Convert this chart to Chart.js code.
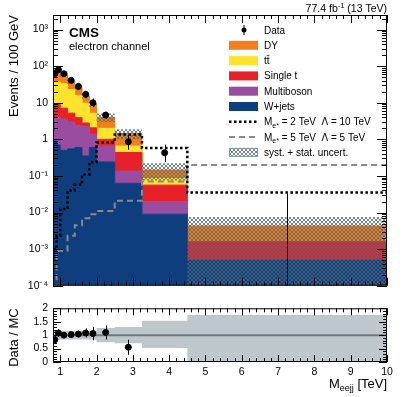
<!DOCTYPE html>
<html>
<head>
<meta charset="utf-8">
<script src="https://cdn.jsdelivr.net/npm/chart.js@4.4.1/dist/chart.umd.min.js"></script>
<style>
  html, body { margin: 0; padding: 0; background: #fff; }
  #wrap { position: relative; width: 407px; height: 397px; }
  canvas { position: absolute; left: 0; }
  #main { top: 0; }
  #ratio { top: 297px; }
</style>
</head>
<body>
<div id="wrap">
  <canvas id="main" width="407" height="297"></canvas>
  <canvas id="ratio" width="407" height="100"></canvas>
</div>
<script>
// bin edges of the M_eejj histogram, TeV
const binEdges = [0.8, 0.9, 1.0, 1.2, 1.4, 1.6, 1.8, 2.0, 2.5, 3.25, 4.5, 10];

// backgrounds, events / 100 GeV (stacked bottom to top)
const wjets      = [0.9, 0.7, 0.5, 0.55, 0.6, 0.35, 0.6, 0.24, 0.063, 0.009, 0.0005];
const multiboson = [3.1, 3.3, 3.1, 2.45, 1.8, 1.85, 0.8, 0.42, 0.073, 0.011, 0];
const singleTop  = [5.0, 5.0, 3.5, 2.2, 1.5, 0.6, 0.67, 0.34, 0.30, 0.036, 0.0011];
const ttbar      = [28, 28, 26, 17.8, 11.6, 6.9, 3.1, 1.0, 0.22, 0.029, 0];
const dy         = [39, 37, 29, 16, 10.5, 5.9, 4.0, 2.0, 0.79, 0.06, 0.0027];

// signal hypotheses
const sigM2L10 = [0.001, 0.0023, 0.0125, 0.04, 0.057, 0.11, 0.24, 0.82, 1.35, 0.58, 0.035];
const sigM5L5  = [0.00005, 0.0009, 0.0009, 0.0023, 0.0045, 0.007, 0.009, 0.011, 0.021, 0.07, 0.2];

// data
const dataVals  = [62, 80, 62, 41, 28, 17, 10, 4.6, 0.86, 0.43, 0];
const dataErrLo = [8, 9, 5.5, 4.5, 3.5, 2.9, 2.2, 1.0, 0.34, 0.19, 0];
const dataErrHi = [8, 9, 5.5, 4.5, 3.7, 3.4, 3.0, 1.1, 0.45, 0.29, 0.033];

// ratio panel
const ratioVals = [0.83, 1.08, 1.0, 1.02, 1.04, 1.08, 1.06, 1.10, 0.55, null, null];
const ratioErr  = [0.14, 0.14, 0.09, 0.10, 0.12, 0.17, 0.25, 0.26, 0.28, null, null];
const bandLo    = [0.82, 0.82, 0.84, 0.84, 0.84, 0.84, 0.83, 0.74, 0.70, 0.52, 0.0];
const bandHi    = [1.18, 1.18, 1.16, 1.16, 1.16, 1.16, 1.17, 1.27, 1.30, 1.54, 1.75];

// tick labels
const xMajorTicks = [1, 2, 3, 4, 5, 6, 7, 8, 9, 10];
const yTickValues = [1e-4, 1e-3, 1e-2, 1e-1, 1, 10, 100, 1000];
const yTickLabels = ['10\u207B\u2074', '10\u207B\u00B3', '10\u207B\u00B2', '10\u207B\u00B9', '1', '10', '10\u00B2', '10\u00B3'];
const ratioTickValues = [0, 0.5, 1, 1.5, 2];
const ratioTickLabels = ['0', '0.5', '1', '1.5', '2'];

const FONT = '"Liberation Sans", Arial, Helvetica, sans-serif';
Chart.defaults.font.family = FONT;
Chart.defaults.color = '#000';

const colors = {
  wjets: '#0f3e7e', multiboson: '#9a4ca1', singleTop: '#e6212a', ttbar: '#fde32b', dy: '#f27f1b',
  band: '#bec7cb', ratioLine: '#6f7a80'
};

// hatch pattern for the syst + stat band
function makeHatch(canvas) {
  const tile = document.createElement('canvas');
  tile.width = 4; tile.height = 4;
  const g = tile.getContext('2d');
  g.fillStyle = 'rgba(80,105,120,0.8)';
  for (let i = 0; i < 4; i++) {
    g.fillRect(i, i, 1, 1);
    g.fillRect(i, 3 - i, 1, 1);
  }
  return canvas.getContext('2d').createPattern(tile, 'repeat');
}

// step points: each bin value holds from its left edge to the next edge
function steps(vals) {
  const pts = vals.map((v, i) => ({x: binEdges[i], y: v}));
  pts.push({x: binEdges[binEdges.length - 1], y: vals[vals.length - 1]});
  return pts;
}

const nBins = binEdges.length - 1;
const binCenters = binEdges.slice(0, -1).map((e, i) => (e + binEdges[i + 1]) / 2);

// cumulative stack
const layers = [
  {label: 'W+jets', vals: wjets, color: colors.wjets},
  {label: 'Multiboson', vals: multiboson, color: colors.multiboson},
  {label: 'Single t', vals: singleTop, color: colors.singleTop},
  {label: 't\u0074\u0304', vals: ttbar, color: colors.ttbar},
  {label: 'DY', vals: dy, color: colors.dy}
];
let running = new Array(nBins).fill(0);
const cumulative = layers.map(l => {
  running = running.map((r, i) => r + l.vals[i]);
  return running.slice();
});
const total = cumulative[cumulative.length - 1];

const mainCanvas = document.getElementById('main');
const hatch = makeHatch(mainCanvas);

const mainSets = [];
layers.forEach((l, i) => {
  mainSets.push({
    label: l.label, data: steps(cumulative[i]), stepped: 'before',
    borderColor: l.color, borderWidth: 1, backgroundColor: l.color,
    fill: i === 0 ? 'start' : '-1', pointRadius: 0, order: 10
  });
});
mainSets.push({
  label: 'unc low', data: steps(total.map((t, i) => Math.max(t * bandLo[i], 1e-6))), stepped: 'before',
  borderColor: 'transparent', borderWidth: 1, fill: false, pointRadius: 0, order: 5
});
mainSets.push({
  label: 'unc high', data: steps(total.map((t, i) => t * bandHi[i])), stepped: 'before',
  borderColor: 'transparent', borderWidth: 1, backgroundColor: hatch, fill: '-1', pointRadius: 0, order: 5
});
mainSets.push({
  label: 'M2', data: steps(sigM2L10), stepped: 'before', borderColor: '#000', borderWidth: 2.5,
  borderDash: [2.5, 2.5], fill: false, pointRadius: 0, order: 2
});
mainSets.push({
  label: 'M5', data: steps(sigM5L5), stepped: 'before', borderColor: '#8a8a8a', borderWidth: 2,
  borderDash: [6, 4], fill: false, pointRadius: 0, order: 2
});
mainSets.push({
  label: 'Data', data: binCenters.map((c, i) => ({x: c, y: dataVals[i] > 0 ? dataVals[i] : null})),
  showLine: false, pointRadius: 3, pointBackgroundColor: '#000', pointBorderColor: '#000', order: 0
});

// text with sub/superscripts
function drawRich(ctx, parts, x, y, align) {
  let w = 0;
  parts.forEach(p => { ctx.font = (p.bold ? 'bold ' : '') + p.size + 'px ' + FONT; w += ctx.measureText(p.t).width; });
  let cx = align === 'right' ? x - w : x;
  parts.forEach(p => {
    ctx.font = (p.bold ? 'bold ' : '') + p.size + 'px ' + FONT;
    ctx.textAlign = 'left';
    ctx.fillText(p.t, cx, y + (p.dy || 0));
    cx += ctx.measureText(p.t).width;
  });
}

function frameAndTicks(chart, xTicks, yTicks) {
  const {ctx, chartArea: a} = chart;
  const xs = chart.scales.x, ys = chart.scales.y;
  ctx.save();
  ctx.strokeStyle = '#000';
  ctx.lineWidth = 1;
  ctx.beginPath();
  xTicks.forEach(t => {
    const px = Math.round(xs.getPixelForValue(t.v)) + 0.5;
    ctx.moveTo(px, a.bottom); ctx.lineTo(px, a.bottom - t.len);
    ctx.moveTo(px, a.top); ctx.lineTo(px, a.top + t.len);
  });
  yTicks.forEach(t => {
    const py = Math.round(ys.getPixelForValue(t.v)) + 0.5;
    ctx.moveTo(a.left, py); ctx.lineTo(a.left + t.len, py);
    ctx.moveTo(a.right, py); ctx.lineTo(a.right - t.len, py);
  });
  ctx.stroke();
  ctx.strokeRect(a.left + 0.5, a.top + 0.5, a.right - a.left - 1, a.bottom - a.top - 1);
  ctx.restore();
}

function xTickList(majorLen, minorLen) {
  const list = [];
  for (let k = 4; k <= 50; k++) list.push({v: k / 5, len: k % 5 === 0 ? majorLen : minorLen});
  return list;
}

const mainDecor = {
  id: 'mainDecor',
  afterDatasetsDraw(chart) {
    const {ctx, chartArea: a} = chart;
    const xs = chart.scales.x, ys = chart.scales.y;

    // data error bars
    ctx.save();
    ctx.strokeStyle = '#000';
    ctx.lineWidth = 1;
    ctx.beginPath();
    binCenters.forEach((c, i) => {
      const px = Math.round(xs.getPixelForValue(c)) + 0.5;
      const v = dataVals[i];
      const lo = v - dataErrLo[i];
      const yLo = lo > 0 ? ys.getPixelForValue(lo) : a.bottom;
      const yHi = ys.getPixelForValue(v + dataErrHi[i]);
      ctx.moveTo(px, yLo); ctx.lineTo(px, yHi);
    });
    ctx.stroke();
    ctx.restore();

    // frame and inward ticks
    const yTicks = [];
    for (let e = -4; e <= 3; e++) {
      for (let m = 1; m <= 9; m++) {
        const v = m * Math.pow(10, e);
        if (v <= ys.max) yTicks.push({v: v, len: m === 1 ? 10 : 5});
      }
    }
    frameAndTicks(chart, xTickList(8, 4), yTicks);

    // labels
    ctx.save();
    ctx.fillStyle = '#000';
    ctx.textBaseline = 'alphabetic';
    drawRich(ctx, [{t: 'CMS', size: 13.5, bold: true}], 69, 37);
    drawRich(ctx, [{t: 'electron channel', size: 11}], 69, 50);
    drawRich(ctx, [{t: '77.4 fb', size: 10.5}, {t: '-1', size: 7.5, dy: -4}, {t: ' (13 TeV)', size: 10.5}], 387, 12, 'right');

    // legend
    const lx = 229, lw = 29, tx = 264, top = 30, rowH = 15.3;
    const rows = [
      {kind: 'data', text: [{t: 'Data', size: 10}]},
      {kind: 'box', color: colors.dy, text: [{t: 'DY', size: 10}]},
      {kind: 'box', color: colors.ttbar, text: [{t: 't\u0074\u0304', size: 10}]},
      {kind: 'box', color: colors.singleTop, text: [{t: 'Single t', size: 10}]},
      {kind: 'box', color: colors.multiboson, text: [{t: 'Multiboson', size: 10}]},
      {kind: 'box', color: colors.wjets, text: [{t: 'W+jets', size: 10}]},
      {kind: 'line', color: '#000', width: 2.5, dash: [2.5, 2.5],
        text: [{t: 'M', size: 10}, {t: 'e*', size: 7, dy: 2.5}, {t: ' = 2 TeV  \u039B = 10 TeV', size: 10}]},
      {kind: 'line', color: '#8a8a8a', width: 2, dash: [6, 4],
        text: [{t: 'M', size: 10}, {t: 'e*', size: 7, dy: 2.5}, {t: ' = 5 TeV  \u039B = 5 TeV', size: 10}]},
      {kind: 'hatch', text: [{t: 'syst. + stat. uncert.', size: 10}]}
    ];
    rows.forEach((r, i) => {
      const cy = top + i * rowH;
      if (r.kind === 'data') {
        ctx.beginPath();
        ctx.moveTo(lx + lw / 2 + 0.5, cy - 5); ctx.lineTo(lx + lw / 2 + 0.5, cy + 5);
        ctx.strokeStyle = '#000'; ctx.lineWidth = 1; ctx.stroke();
        ctx.beginPath(); ctx.arc(lx + lw / 2 + 0.5, cy, 2.5, 0, Math.PI * 2); ctx.fill();
      } else if (r.kind === 'box') {
        ctx.fillStyle = r.color;
        ctx.fillRect(lx, cy - 4.5, lw, 9);
        ctx.fillStyle = '#000';
      } else if (r.kind === 'line') {
        ctx.save();
        ctx.strokeStyle = r.color; ctx.lineWidth = r.width; ctx.setLineDash(r.dash);
        ctx.beginPath(); ctx.moveTo(lx, cy); ctx.lineTo(lx + lw, cy); ctx.stroke();
        ctx.restore();
      } else {
        ctx.fillStyle = hatch;
        ctx.fillRect(lx, cy - 4.5, lw, 9);
        ctx.strokeStyle = '#8a9aa4'; ctx.lineWidth = 1;
        ctx.strokeRect(lx + 0.5, cy - 4, lw - 1, 8);
        ctx.fillStyle = '#000';
      }
      drawRich(ctx, r.text, tx, cy + 3.5);
    });
    ctx.restore();
  }
};

new Chart(mainCanvas, {
  type: 'line',
  data: {datasets: mainSets},
  options: {
    responsive: false,
    animation: false,
    devicePixelRatio: 1,
    layout: {padding: {top: 15, right: 20, bottom: 6, left: 0}},
    plugins: {legend: {display: false}, tooltip: {enabled: false}},
    scales: {
      x: {type: 'linear', min: binEdges[0], max: binEdges[binEdges.length - 1], display: false},
      y: {
        type: 'logarithmic', min: 1e-4, max: 2500,
        afterBuildTicks: s => { s.ticks = yTickValues.map(v => ({value: v})); },
        afterFit: s => { s.width = 53; },
        grid: {display: false, drawTicks: false},
        border: {display: false},
        ticks: {autoSkip: false, padding: 5, font: {size: 10.5}, callback: (v, i) => yTickLabels[i]},
        title: {display: true, text: 'Events / 100 GeV', align: 'end', font: {size: 13}, padding: {top: 7, bottom: 0}}
      }
    }
  },
  plugins: [mainDecor]
});

// ratio panel
const ratioSets = [
  {
    label: 'unity', data: [{x: binEdges[0], y: 1}, {x: binEdges[binEdges.length - 1], y: 1}],
    borderColor: colors.ratioLine, borderWidth: 2, fill: false, pointRadius: 0, order: 1
  },
  {
    label: 'band low', data: steps(bandLo), stepped: 'before', borderColor: 'transparent',
    borderWidth: 1, fill: false, pointRadius: 0, order: 3
  },
  {
    label: 'band high', data: steps(bandHi), stepped: 'before', borderColor: 'transparent',
    borderWidth: 1, backgroundColor: colors.band, fill: '-1', pointRadius: 0, order: 3
  },
  {
    label: 'Data / MC', data: binCenters.map((c, i) => ({x: c, y: ratioVals[i]})),
    showLine: false, pointRadius: 3, pointBackgroundColor: '#000', pointBorderColor: '#000', order: 0
  }
];

const ratioDecor = {
  id: 'ratioDecor',
  afterDatasetsDraw(chart) {
    const {ctx} = chart;
    const xs = chart.scales.x, ys = chart.scales.y;
    ctx.save();
    ctx.strokeStyle = '#000';
    ctx.lineWidth = 1;
    ctx.beginPath();
    binCenters.forEach((c, i) => {
      if (ratioVals[i] == null) return;
      const px = Math.round(xs.getPixelForValue(c)) + 0.5;
      ctx.moveTo(px, ys.getPixelForValue(ratioVals[i] - ratioErr[i]));
      ctx.lineTo(px, ys.getPixelForValue(ratioVals[i] + ratioErr[i]));
    });
    ctx.stroke();
    ctx.restore();

    const yTicks = [];
    for (let k = 0; k <= 20; k++) yTicks.push({v: k / 10, len: k % 5 === 0 ? 8 : 4});
    frameAndTicks(chart, xTickList(7, 4), yTicks);

    ctx.save();
    ctx.fillStyle = '#000';
    drawRich(ctx, [{t: 'M', size: 13}, {t: 'eejj', size: 9, dy: 3}, {t: ' [TeV]', size: 13}], 387, 91, 'right');
    ctx.restore();
  }
};

new Chart(document.getElementById('ratio'), {
  type: 'line',
  data: {datasets: ratioSets},
  options: {
    responsive: false,
    animation: false,
    devicePixelRatio: 1,
    layout: {padding: {top: 6, right: 20, bottom: 0, left: 0}},
    plugins: {legend: {display: false}, tooltip: {enabled: false}},
    scales: {
      x: {
        type: 'linear', min: binEdges[0], max: binEdges[binEdges.length - 1],
        afterBuildTicks: s => { s.ticks = xMajorTicks.map(v => ({value: v})); },
        afterFit: s => { s.height = 35; },
        grid: {display: false, drawTicks: false},
        border: {display: false},
        ticks: {autoSkip: false, maxRotation: 0, padding: 4, font: {size: 10.5}, callback: (v, i) => String(xMajorTicks[i])}
      },
      y: {
        type: 'linear', min: 0, max: 2,
        afterBuildTicks: s => { s.ticks = ratioTickValues.map(v => ({value: v})); },
        afterFit: s => { s.width = 53; },
        grid: {display: false, drawTicks: false},
        border: {display: false},
        ticks: {autoSkip: false, padding: 5, font: {size: 10.5}, callback: (v, i) => ratioTickLabels[i]},
        title: {display: true, text: 'Data / MC', align: 'end', font: {size: 13}, padding: {top: 7, bottom: 0}}
      }
    }
  },
  plugins: [ratioDecor]
});
</script>
</body>
</html>
